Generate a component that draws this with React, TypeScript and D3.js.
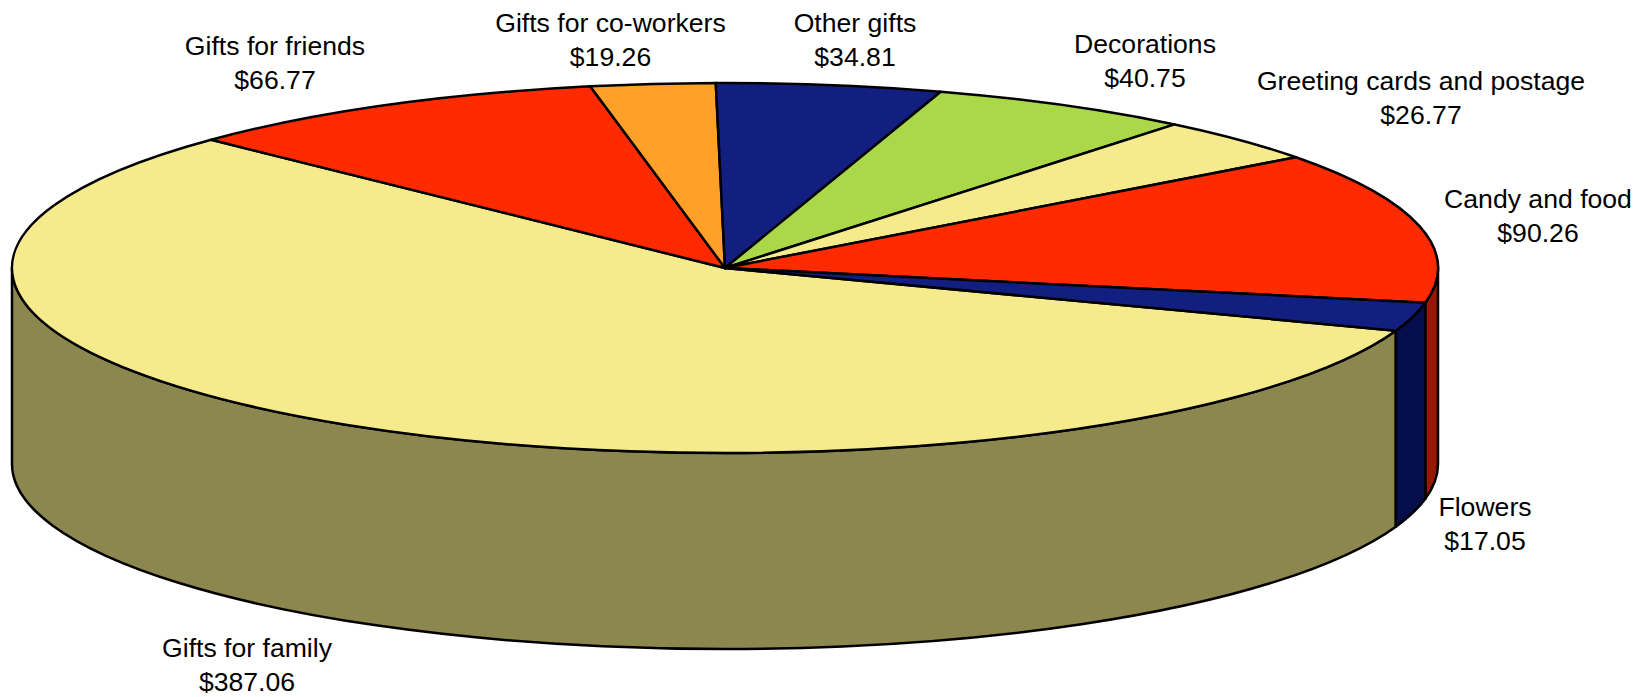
import * as d3 from 'd3'

// clockwise, starting at the slice that holds the front of the pie
const categories = [
  'Gifts for family',
  'Gifts for friends',
  'Gifts for co-workers',
  'Other gifts',
  'Decorations',
  'Greeting cards and postage',
  'Candy and food',
  'Flowers',
]
const amounts = [387.06, 66.77, 19.26, 34.81, 40.75, 26.77, 90.26, 17.05]
const topColors = ['#f5ea8c', '#ff2a00', '#ffa029', '#131f80', '#aad848', '#f5ea8c', '#ff2a00', '#131f80']
const sideColors = ['#8c874e', '#991900', '#995f18', '#060d4d', '#66812b', '#8c874e', '#991900', '#060d4d']

// label anchor (centre x, first baseline y) per category
const labelX = [247, 275, 610.5, 855, 1145, 1421, 1538, 1485]
const labelY = [657, 55, 32, 32, 53, 90, 208, 516]
const lineGap = 33.5

const width = 1648
const height = 697
const cx = 725
const cy = 268
const rx = 713
const ry = 185
const depth = 196

const startAngle = (109.8 * Math.PI) / 180

const pie = d3
  .pie<number>()
  .sort(null)
  .startAngle(startAngle)
  .endAngle(startAngle + 2 * Math.PI)

const px = (a: number) => cx + rx * Math.sin(a)
const py = (a: number) => cy - ry * Math.cos(a)

function topPath(a0: number, a1: number) {
  const large = a1 - a0 > Math.PI ? 1 : 0
  return `M${cx},${cy}L${px(a0)},${py(a0)}A${rx},${ry} 0 ${large} 1 ${px(a1)},${py(a1)}Z`
}

// outer wall, only the part of the rim that faces the viewer (90 to 270 degrees)
function sidePath(a0: number, a1: number) {
  const wraps = [0, 2 * Math.PI]
  const parts: string[] = []
  wraps.forEach(off => {
    const s = Math.max(a0, Math.PI / 2 + off)
    const e = Math.min(a1, (3 * Math.PI) / 2 + off)
    if (e <= s) return
    parts.push(
      `M${px(s)},${py(s)}A${rx},${ry} 0 0 1 ${px(e)},${py(e)}` +
        `L${px(e)},${py(e) + depth}A${rx},${ry} 0 0 0 ${px(s)},${py(s) + depth}Z`
    )
  })
  return parts.join('')
}

export default function App() {
  const arcs = pie(amounts)
  return (
    <svg
      width={width}
      height={height}
      style={{ position: 'absolute', left: 0, top: 0, background: '#fff' }}
      fontFamily="'Liberation Sans', Arial, sans-serif"
    >
      <g stroke="#000" strokeWidth={2.5} strokeLinejoin="round">
        {arcs.map((d, i) => (
          <path key={i} d={sidePath(d.startAngle, d.endAngle)} fill={sideColors[i]} />
        ))}
        {arcs.map((d, i) => (
          <path key={i} d={topPath(d.startAngle, d.endAngle)} fill={topColors[i]} />
        ))}
      </g>
      <g fontSize={26.6} fill="#000" textAnchor="middle">
        {categories.map((name, i) => (
          <text key={name} x={labelX[i]} y={labelY[i]}>
            <tspan x={labelX[i]}>{name}</tspan>
            <tspan x={labelX[i]} dy={lineGap}>{`$${amounts[i].toFixed(2)}`}</tspan>
          </text>
        ))}
      </g>
    </svg>
  )
}
